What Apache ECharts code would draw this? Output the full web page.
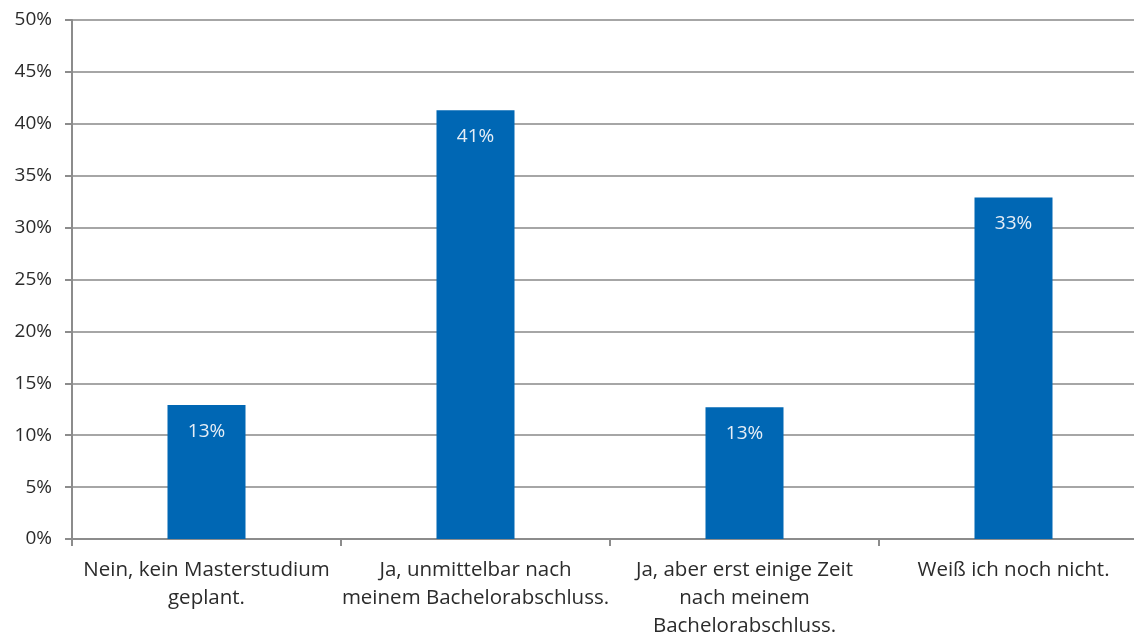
<!DOCTYPE html>
<html>
<head>
<meta charset="utf-8">
<script src="https://cdn.jsdelivr.net/npm/echarts@6/dist/echarts.min.js"></script>
<style>
html,body{margin:0;padding:0;background:#fff;overflow:hidden}
#chart{width:1134px;height:639px}
</style>
</head>
<body>
<div id="chart"></div>
<script>
var categories = [
    'Nein, kein Masterstudium\ngeplant.',
    'Ja, unmittelbar nach\nmeinem Bachelorabschluss.',
    'Ja, aber erst einige Zeit\nnach meinem\nBachelorabschluss.',
    'Weiß ich noch nicht.'
];
var values = [12.9, 41.3, 12.7, 32.9];
var yTicks = {min: 0, max: 50, interval: 5};

var chart = echarts.init(document.getElementById('chart'));
var font = '"Open Sans", "Noto Sans", sans-serif';
var option = {
    animation: false,
    grid: {
        left: 72,
        right: -14,
        top: 20,
        bottom: 100,
        outerBoundsMode: 'none'
    },
    xAxis: {
        type: 'category',
        data: categories,
        axisLine: {lineStyle: {color: '#8c8c8c', width: 2}},
        axisTick: {show: true, length: 7, lineStyle: {color: '#8c8c8c', width: 2}},
        axisLabel: {
            color: '#2b2b2b',
            fontFamily: font,
            fontSize: 20.5,
            lineHeight: 28,
            margin: 17,
            interval: 0
        }
    },
    yAxis: {
        type: 'value',
        min: yTicks.min,
        max: yTicks.max,
        interval: yTicks.interval,
        axisLine: {show: true, lineStyle: {color: '#8c8c8c', width: 2}},
        axisTick: {show: true, length: 7, lineStyle: {color: '#8c8c8c', width: 2}},
        splitLine: {lineStyle: {color: '#a6a6a6', width: 2}},
        axisLabel: {
            color: '#2b2b2b',
            fontFamily: font,
            fontSize: 19,
            margin: 20,
            formatter: '{value}%'
        }
    },
    series: [{
        type: 'bar',
        data: values,
        barWidth: '29%',
        itemStyle: {color: '#0067b4'},
        label: {
            show: true,
            position: 'insideTop',
            distance: 17,
            color: '#e6eef6',
            fontFamily: font,
            fontSize: 19,
            formatter: function (p) { return Math.round(p.value) + '%'; }
        }
    }]
};
chart.setOption(option);
window.addEventListener('resize', function () {
    chart.resize();
});
</script>
</body>
</html>
